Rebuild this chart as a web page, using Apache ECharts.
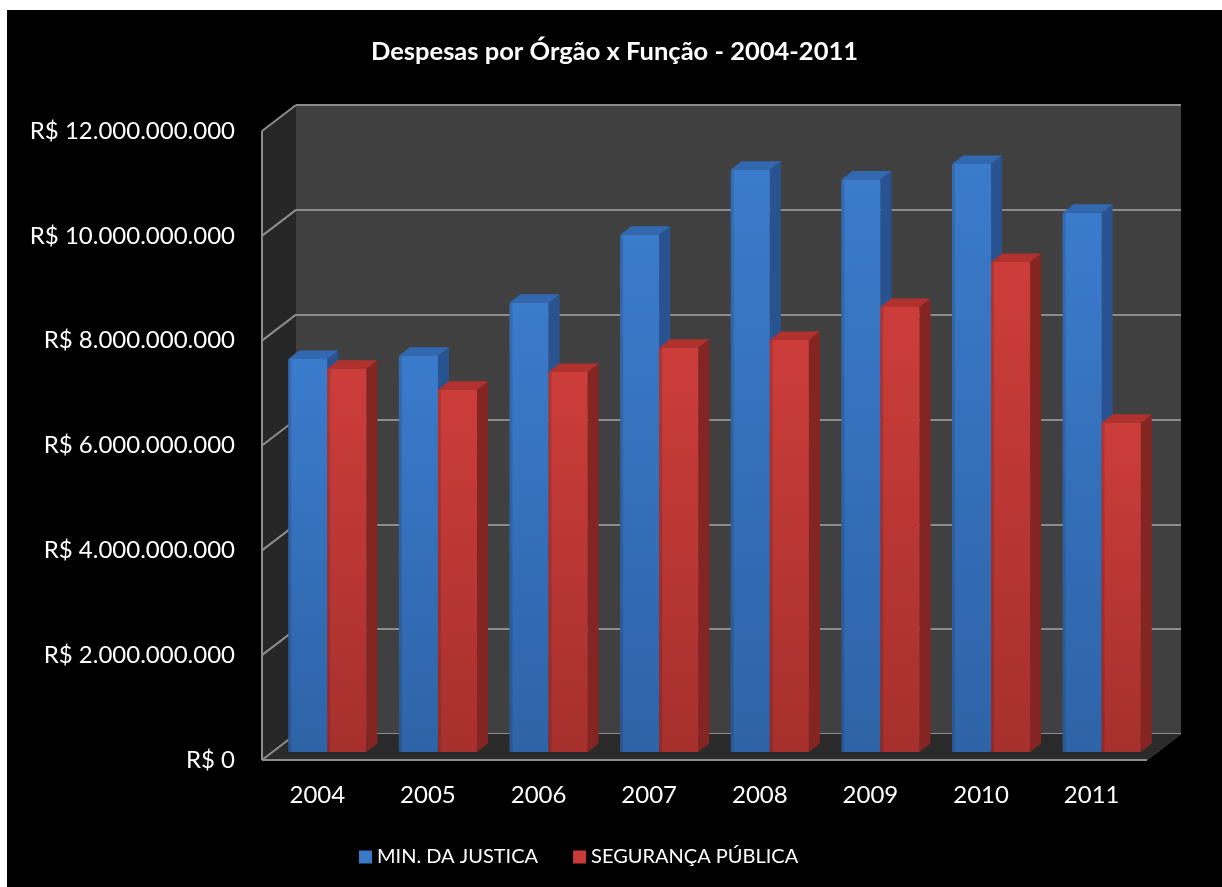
<!DOCTYPE html>
<html>
<head>
<meta charset="utf-8">
<script src="https://cdn.jsdelivr.net/npm/echarts@6/dist/echarts.min.js"></script>
<style>
  html, body { margin: 0; padding: 0; background: #ffffff; }
  #chart {
    position: absolute;
    left: 7px;
    top: 10px;
    width: 1215px;
    height: 877px;
    background: #000000;
  }
</style>
</head>
<body>
<div id="chart"></div>
<script>
// data
var CATEGORIES = ["2004", "2005", "2006", "2007", "2008", "2009", "2010", "2011"];
var MIN_JUSTICA = [7.50e9, 7.56e9, 8.57e9, 9.87e9, 11.11e9, 10.92e9, 11.22e9, 10.29e9];
var SEG_PUBLICA = [7.31e9, 6.91e9, 7.25e9, 7.71e9, 7.86e9, 8.49e9, 9.35e9, 6.28e9];
var Y_MAX = 12e9;
var Y_STEP = 2e9;

// fake 3D layout
var FRONT = { left: 255, top: 121, width: 885, height: 629 };
var DEPTH = { dx: 34, dy: -26 };     // front edge -> back wall
var PLANE = { dx: 10, dy: -8 };      // front edge -> bar front faces
var BAR_DEPTH = { dx: 11, dy: -8.5 };
var BAR_RATIO = 0.353;
var FONT = "Lato";

function money(v) {
  return "R$ " + String(Math.round(v)).replace(/\B(?=(\d{3})+(?!\d))/g, ".");
}

var myChart = echarts.init(document.getElementById("chart"));

function wallsRender(params, api) {
  var cs = params.coordSys;
  var x = cs.x, y = cs.y, w = cs.width, h = cs.height;
  var dx = DEPTH.dx, dy = DEPTH.dy;
  var line = { stroke: "#8c8c8c", lineWidth: 2 };
  var kids = [
    { type: "polygon", shape: { points: [[x, y], [x + dx, y + dy], [x + dx, y + h + dy], [x, y + h]] },
      style: { fill: "#262626" } },
    { type: "polygon", shape: { points: [[x, y + h], [x + w, y + h], [x + w + dx, y + h + dy], [x + dx, y + h + dy]] },
      style: { fill: "#2a2a2a" } }
  ];
  for (var v = 0; v <= Y_MAX; v += Y_STEP) {
    var yy = api.coord([0, v])[1];
    kids.push({ type: "line", shape: { x1: x, y1: yy, x2: x + dx, y2: yy + dy }, style: line });
  }
  kids.push({ type: "line", shape: { x1: x, y1: y, x2: x, y2: y + h }, style: line });
  kids.push({ type: "line", shape: { x1: x, y1: y + h, x2: x + w, y2: y + h }, style: line });
  kids.push({ type: "line", shape: { x1: x + w, y1: y + h, x2: x + w + dx, y2: y + h + dy },
    style: { stroke: "#3a3a3a", lineWidth: 1 } });
  return { type: "group", children: kids };
}

function barRender(left, c) {
  return function (params, api) {
    var i = api.value(0), v = api.value(1);
    var base = api.coord([i, 0]);
    var top = api.coord([i, v]);
    var bw = api.size([1, 0])[0] * BAR_RATIO;
    var x0 = base[0] + PLANE.dx - (left ? bw : 0);
    var yb = base[1] + PLANE.dy, yt = top[1] + PLANE.dy;
    var dx = BAR_DEPTH.dx, dy = BAR_DEPTH.dy;
    return {
      type: "group",
      children: [
        { type: "polygon",
          shape: { points: [[x0 + bw, yt], [x0 + bw + dx, yt + dy], [x0 + bw + dx, yb + dy], [x0 + bw, yb]] },
          style: { fill: c.side } },
        { type: "polygon",
          shape: { points: [[x0, yt], [x0 + dx, yt + dy], [x0 + bw + dx, yt + dy], [x0 + bw, yt]] },
          style: { fill: c.top } },
        { type: "rect",
          shape: { x: x0, y: yt, width: bw, height: yb - yt, r: 1 },
          style: { fill: { type: "linear", x: 0, y: 0, x2: 0, y2: 1,
            colorStops: [{ offset: 0, color: c.light }, { offset: 1, color: c.dark }] } } },
        { type: "rect",
          shape: { x: x0, y: yt, width: 3, height: yb - yt },
          style: { fill: "rgba(0,0,0,0.12)" } }
      ]
    };
  };
}

var BLUE = { light: "#3b7bcc", dark: "#2e63a7", side: "#285390", top: "#3168b0" };
var RED = { light: "#cc3d3a", dark: "#a6302d", side: "#852522", top: "#b0312d" };

var option = {
  backgroundColor: "#000000",
  title: {
    text: "Despesas por Órgão x Função - 2004-2011",
    left: "center",
    top: 24,
    textStyle: { color: "#ffffff", fontFamily: FONT, fontWeight: "bold", fontSize: 25.5 }
  },
  legend: {
    left: 347,
    top: 832,
    itemWidth: 13,
    itemHeight: 13,
    itemGap: 35,
    icon: "rect",
    textStyle: { color: "#ffffff", fontFamily: FONT, fontSize: 20 },
    data: ["MIN. DA JUSTICA", "SEGURANÇA PÚBLICA"]
  },
  grid: [
    { left: FRONT.left, top: FRONT.top, width: FRONT.width, height: FRONT.height },
    { left: FRONT.left + DEPTH.dx, top: FRONT.top + DEPTH.dy, width: FRONT.width, height: FRONT.height,
      show: true, backgroundColor: "#404040", borderWidth: 0 }
  ],
  xAxis: [
    { type: "category", gridIndex: 0, data: CATEGORIES,
      axisLine: { show: false }, axisTick: { show: false },
      axisLabel: { color: "#ffffff", fontFamily: FONT, fontSize: 24, margin: 23 } },
    { type: "category", gridIndex: 1, data: CATEGORIES, show: false }
  ],
  yAxis: [
    { type: "value", gridIndex: 0, min: 0, max: Y_MAX, interval: Y_STEP,
      axisLine: { show: false }, axisTick: { show: false }, splitLine: { show: false },
      axisLabel: { color: "#ffffff", fontFamily: FONT, fontSize: 24, margin: 27, formatter: money } },
    { type: "value", gridIndex: 1, min: 0, max: Y_MAX, interval: Y_STEP,
      axisLine: { show: false }, axisTick: { show: false }, axisLabel: { show: false },
      splitLine: { show: true, lineStyle: { color: "#8c8c8c", width: 2 } } }
  ],
  series: [
    { type: "custom", name: "walls", xAxisIndex: 0, yAxisIndex: 0, z: 1, silent: true,
      data: [[0, 0]], renderItem: wallsRender },
    { type: "custom", name: "MIN. DA JUSTICA", xAxisIndex: 0, yAxisIndex: 0, z: 2,
      itemStyle: { color: "#3a78c8" },
      encode: { x: 0, y: 1 },
      data: CATEGORIES.map(function (c, i) { return [i, MIN_JUSTICA[i]]; }),
      renderItem: barRender(true, BLUE) },
    { type: "custom", name: "SEGURANÇA PÚBLICA", xAxisIndex: 0, yAxisIndex: 0, z: 3,
      itemStyle: { color: "#c83a36" },
      encode: { x: 0, y: 1 },
      data: CATEGORIES.map(function (c, i) { return [i, SEG_PUBLICA[i]]; }),
      renderItem: barRender(false, RED) }
  ]
};

myChart.setOption(option);
window.addEventListener("resize", function () {
  myChart.resize();
});
</script>
</body>
</html>
